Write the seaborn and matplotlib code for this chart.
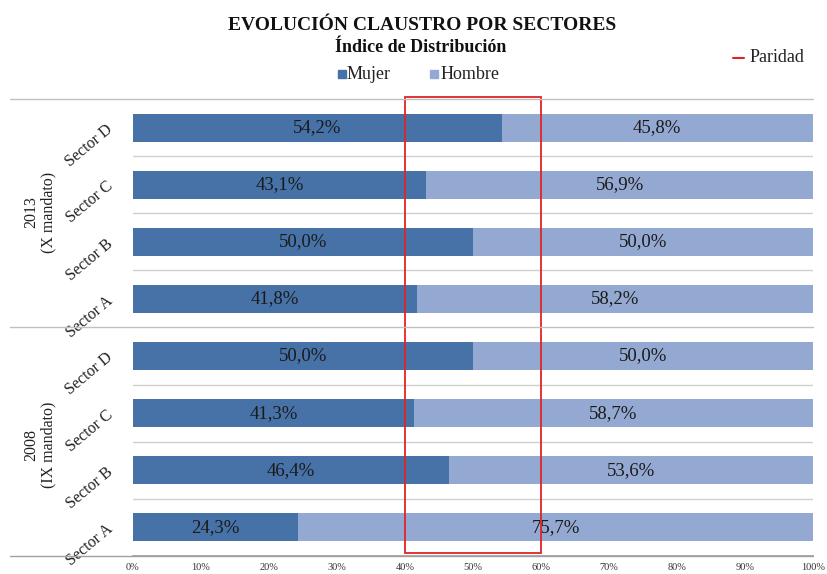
import matplotlib
matplotlib.use("Agg")
import matplotlib.pyplot as plt
import seaborn as sns
import pandas as pd
from matplotlib.patches import Rectangle
from matplotlib.lines import Line2D

# ---- data ----
groups = ["2013\n(X mandato)", "2008\n(IX mandato)"]
sectors = ["Sector D", "Sector C", "Sector B", "Sector A"]
mujer = [54.2, 43.1, 50.0, 41.8, 50.0, 41.3, 46.4, 24.3]
hombre = [45.8, 56.9, 50.0, 58.2, 50.0, 58.7, 53.6, 75.7]
xticks = [0, 10, 20, 30, 40, 50, 60, 70, 80, 90, 100]
xticklabels = ["0%", "10%", "20%", "30%", "40%", "50%", "60%", "70%", "80%", "90%", "100%"]
paridad_lo, paridad_hi = 40, 60

DARK = "#4672a8"
LIGHT = "#94a9d2"
RED = "#e02424"

sns.set_theme(style="white")
plt.rcParams["font.family"] = ["Liberation Serif", "DejaVu Serif"]

rows = [f"{g}|{s}" for g in groups for s in sectors]
row_sector = [s for g in groups for s in sectors]
df = pd.DataFrame({
    "row": rows,
    "mujer": mujer,
    "hombre": hombre,
})
df["total"] = df["mujer"] + df["hombre"]

W, H = 828, 574
fig = plt.figure(figsize=(W / 100, H / 100), dpi=100)
top_px, bot_px, left_px, right_px = 99, 556, 133, 813
ax = fig.add_axes([left_px / W, 1 - bot_px / H, (right_px - left_px) / W, (bot_px - top_px) / H])

sns.barplot(data=df, y="row", x="total", order=rows, color=LIGHT, saturation=1,
            width=0.49, orient="h", ax=ax, errorbar=None, linewidth=0)
sns.barplot(data=df, y="row", x="mujer", order=rows, color=DARK, saturation=1,
            width=0.49, orient="h", ax=ax, errorbar=None, linewidth=0)

ax.set_xlim(0, 100)
ax.set_ylim(len(rows) - 0.5, -0.5)
ax.set_xlabel("")
ax.set_ylabel("")

# gridlines between categories
for i in range(len(rows) - 1):
    if i == 3:
        continue
    ax.axhline(i + 0.5, color="#d0d0d0", lw=1, zorder=0)

# bar labels
for i, (m, h) in enumerate(zip(mujer, hombre)):
    ax.text(m / 2, i, f"{m:.1f}%".replace(".", ","), ha="center", va="center",
            fontsize=13.5, color="#1a1a1a")
    ax.text(m + h / 2, i, f"{h:.1f}%".replace(".", ","), ha="center", va="center",
            fontsize=13.5, color="#1a1a1a")

# axes styling
for s in ["top", "right", "left"]:
    ax.spines[s].set_visible(False)
ax.spines["bottom"].set_color("#a0a0a0")
ax.set_xticks(xticks)
ax.set_xticklabels(xticklabels, fontsize=7.5, color="#333333")
ax.tick_params(axis="x", direction="in", length=3, color="#a0a0a0", pad=5)
ax.set_yticks(range(len(rows)))
ax.set_yticklabels(row_sector, fontsize=11.5, color="#222222", rotation=40,
                   rotation_mode="anchor", ha="right", va="center")
ax.tick_params(axis="y", length=0, pad=16)

# paridad rectangle
ax.add_patch(Rectangle((paridad_lo, -0.53), paridad_hi - paridad_lo, len(rows) - 0.03,
                       fill=False, edgecolor=RED, lw=1.3, clip_on=False, zorder=5))

# lines extending to the left
for ypx in [top_px, 327, bot_px]:
    fig.add_artist(Line2D([10 / W, right_px / W], [1 - ypx / H, 1 - ypx / H],
                          color="#c0c0c0" if ypx != bot_px else "#a0a0a0", lw=1))

# group labels
fig.text(40 / W, 1 - 212 / H, groups[0], rotation=90, ha="center", va="center",
         fontsize=11.5, color="#222222", linespacing=1.1)
fig.text(40 / W, 1 - 445 / H, groups[1], rotation=90, ha="center", va="center",
         fontsize=11.5, color="#222222", linespacing=1.1)

# titles
fig.text(422 / W, 1 - 25 / H, "EVOLUCIÓN CLAUSTRO POR SECTORES", ha="center", va="center",
         fontsize=14, fontweight="bold", color="#111111")
fig.text(421 / W, 1 - 47 / H, "Índice de Distribución", ha="center", va="center",
         fontsize=13, fontweight="bold", color="#111111")

# legend
fig.add_artist(Rectangle((338 / W, 1 - 78 / H), 8 / W, 8 / H, color=DARK, transform=fig.transFigure))
fig.text(347 / W, 1 - 74 / H, "Mujer", ha="left", va="center", fontsize=13, color="#222222")
fig.add_artist(Rectangle((430 / W, 1 - 78 / H), 8 / W, 8 / H, color=LIGHT, transform=fig.transFigure))
fig.text(441 / W, 1 - 74 / H, "Hombre", ha="left", va="center", fontsize=13, color="#222222")

fig.add_artist(Line2D([733 / W, 744 / W], [1 - 58 / H, 1 - 58 / H], color=RED, lw=1.5))
fig.text(750 / W, 1 - 58 / H, "Paridad", ha="left", va="center", fontsize=13, color="#222222")

fig.savefig("out.png", dpi=100)
